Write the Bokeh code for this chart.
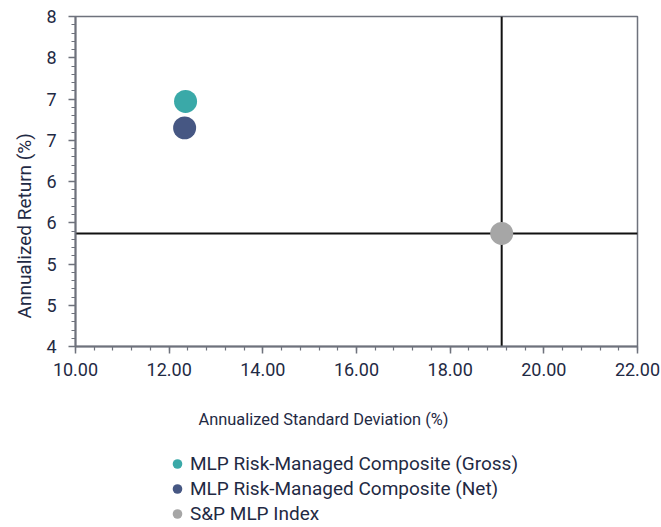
from bokeh.plotting import figure
from bokeh.layouts import column
from bokeh.models import (Range1d, SingleIntervalTicker, NumeralTickFormatter,
                          CustomJSTickFormatter, Span, Title, Legend, Label)
from bokeh.embed import file_html
from bokeh.resources import INLINE

# ---- data ----
series = ["MLP Risk-Managed Composite (Gross)",
          "MLP Risk-Managed Composite (Net)",
          "S&P MLP Index"]
std_dev = [12.35, 12.33, 19.10]
returns = [6.97, 6.65, 5.37]
colors = ["#3aa9a8", "#465783", "#a6a6a6"]
x_title = "Annualized Standard Deviation (%)"
y_title = "Annualized Return  (%)"

FONT = "Roboto"
TXT = "#1f2a44"
AX = "#6e727c"

# ---- main chart ----
p = figure(width=661, height=390, output_backend="svg", toolbar_location=None,
           x_range=Range1d(10, 22), y_range=Range1d(4, 8),
           min_border_left=75, min_border_right=24, min_border_top=16,
           min_border_bottom=44)
p.background_fill_color = "white"
p.border_fill_color = "white"
p.grid.visible = False
p.outline_line_color = AX
p.outline_line_width = 1.5

p.xaxis.ticker = SingleIntervalTicker(interval=2, num_minor_ticks=5)
p.yaxis.ticker = SingleIntervalTicker(interval=0.5, num_minor_ticks=5)
p.xaxis.formatter = NumeralTickFormatter(format="0.00")
p.yaxis.formatter = CustomJSTickFormatter(code="return tick.toFixed(0)")
for ax in (p.xaxis, p.yaxis):
    ax.axis_line_color = AX
    ax.axis_line_width = 2
    ax.major_tick_line_color = AX
    ax.minor_tick_line_color = AX
    ax.major_tick_line_width = 1.5
    ax.minor_tick_line_width = 1.2
    ax.major_tick_in = 0
    ax.minor_tick_in = 0
    ax.major_tick_out = 7
    ax.minor_tick_out = 4
    ax.major_label_text_font = FONT
    ax.major_label_text_font_size = "18px"
    ax.major_label_text_color = TXT
p.xaxis.major_label_standoff = 9
p.yaxis.major_label_standoff = 12

p.add_layout(Span(location=std_dev[2], dimension="height", line_color="#111111",
                  line_width=2, level="underlay"))
p.add_layout(Span(location=returns[2], dimension="width", line_color="#111111",
                  line_width=2, level="underlay"))

for i in range(len(series)):
    p.scatter(x=[std_dev[i]], y=[returns[i]], size=23, marker="circle",
              fill_color=colors[i], line_color=None)

p.add_layout(Title(text=y_title, align="left", offset=28, standoff=16,
                   text_font=FONT, text_font_size="19px", text_font_style="normal",
                   text_color=TXT), "left")

# ---- legend / axis-title strip ----
q = figure(width=661, height=137, output_backend="svg", toolbar_location=None,
           x_range=Range1d(0, 1), y_range=Range1d(0, 1),
           x_axis_location=None, y_axis_location=None, min_border=0)
q.grid.visible = False
q.outline_line_color = None
q.background_fill_color = "white"
q.border_fill_color = "white"

items = []
for i in range(len(series)):
    r = q.scatter(x=[std_dev[i]], y=[returns[i]], size=23, marker="circle",
                  fill_color=colors[i], line_color=None, visible=False)
    items.append((series[i], [r]))

legend = Legend(items=items, location=(90, 1), orientation="vertical",
                padding=0, margin=0, spacing=0, border_line_color=None,
                background_fill_alpha=0, label_height=25, glyph_height=25,
                glyph_width=24, label_standoff=1,
                label_text_font=FONT, label_text_font_size="19px",
                label_text_color=TXT)
q.add_layout(legend, "center")

q.add_layout(Label(x=123, y=108, x_units="screen", y_units="screen",
                   text=x_title, text_font=FONT, text_font_size="16.4px",
                   text_color=TXT, text_baseline="middle", text_align="left"))

layout = column(p, q, spacing=0)
open("out.html", "w").write(file_html(layout, INLINE))
